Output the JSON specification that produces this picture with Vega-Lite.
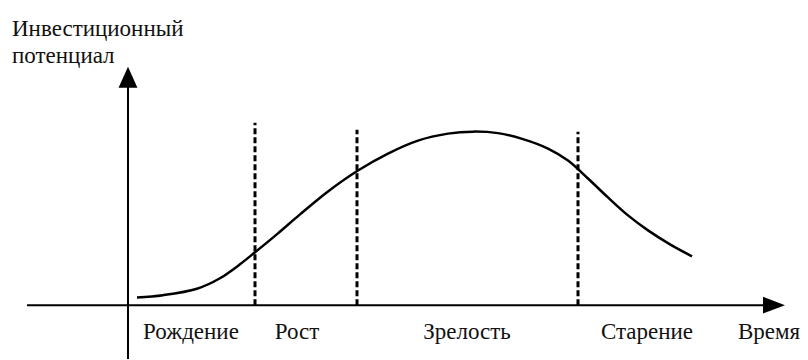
{
  "$schema": "https://vega.github.io/schema/vega-lite/v6.json",
  "width": 808,
  "height": 360,
  "autosize": {"type": "fit", "contains": "padding"},
  "padding": 0,
  "background": "#ffffff",
  "config": {"view": {"stroke": null}},
  "datasets": {
    "axes": [
      {"name": "time", "x": -101, "y": 0, "x2": 648, "y2": 0},
      {"name": "potential", "x": 0, "y": -54, "x2": 0, "y2": 225}
    ],
    "phases": [
      {"x": 127, "y": 0, "y2": 183},
      {"x": 229, "y": 0, "y2": 176},
      {"x": 450, "y": 0, "y2": 174}
    ],
    "curve": [
      {"t": 9, "v": 7.7},
      {"t": 35, "v": 10},
      {"t": 69, "v": 16.5},
      {"t": 92, "v": 27},
      {"t": 112, "v": 41},
      {"t": 127, "v": 53},
      {"t": 150, "v": 72},
      {"t": 172, "v": 91},
      {"t": 200, "v": 114},
      {"t": 230, "v": 135},
      {"t": 260, "v": 152},
      {"t": 290, "v": 165},
      {"t": 320, "v": 172},
      {"t": 345, "v": 174},
      {"t": 370, "v": 172.5},
      {"t": 395, "v": 166.5},
      {"t": 420, "v": 157},
      {"t": 440, "v": 145},
      {"t": 460, "v": 127},
      {"t": 480, "v": 108},
      {"t": 500, "v": 90},
      {"t": 520, "v": 75},
      {"t": 542, "v": 61},
      {"t": 564, "v": 49}
    ],
    "labels": [
      {"label": "Рождение", "x": 63, "y": -34},
      {"label": "Рост", "x": 169, "y": -34},
      {"label": "Зрелость", "x": 339, "y": -34},
      {"label": "Старение", "x": 519, "y": -34},
      {"label": "Время", "x": 641, "y": -34}
    ],
    "titles": [
      {"label": "Инвестиционный", "x": -116, "y": 270},
      {"label": "потенциал", "x": -116, "y": 243}
    ]
  },
  "layer": [
    {
      "data": {"name": "axes"},
      "mark": {"type": "rule", "color": "#000000", "strokeWidth": 2},
      "encoding": {
        "x": {"field": "x", "type": "quantitative", "scale": {"domain": [-128, 680], "nice": false, "zero": false}, "axis": null},
        "y": {"field": "y", "type": "quantitative", "scale": {"domain": [-54, 306], "nice": false, "zero": false}, "axis": null},
        "x2": {"field": "x2"},
        "y2": {"field": "y2"}
      }
    },
    {
      "data": {"name": "phases"},
      "mark": {"type": "rule", "color": "#000000", "strokeWidth": 3, "strokeDash": [6, 3]},
      "encoding": {
        "x": {"field": "x", "type": "quantitative"},
        "y": {"field": "y", "type": "quantitative"},
        "y2": {"field": "y2"}
      }
    },
    {
      "data": {"name": "curve"},
      "mark": {"type": "line", "color": "#000000", "strokeWidth": 2.5, "interpolate": "catmull-rom"},
      "encoding": {
        "x": {"field": "t", "type": "quantitative"},
        "y": {"field": "v", "type": "quantitative"}
      }
    },
    {
      "data": {"values": [{"x": 0, "y": 228.5}]},
      "mark": {"type": "point", "filled": true, "color": "#000000", "opacity": 1, "size": 441, "shape": "M0,-1L0.9,1L-0.9,1Z"},
      "encoding": {
        "x": {"field": "x", "type": "quantitative"},
        "y": {"field": "y", "type": "quantitative"}
      }
    },
    {
      "data": {"values": [{"x": 646, "y": 0}]},
      "mark": {"type": "point", "filled": true, "color": "#000000", "opacity": 1, "size": 484, "shape": "M1,0L-1,0.77L-1,-0.77Z"},
      "encoding": {
        "x": {"field": "x", "type": "quantitative"},
        "y": {"field": "y", "type": "quantitative"}
      }
    },
    {
      "data": {"name": "labels"},
      "mark": {"type": "text", "font": "Liberation Serif", "fontSize": 23, "color": "#111111", "align": "center", "baseline": "alphabetic"},
      "encoding": {
        "x": {"field": "x", "type": "quantitative"},
        "y": {"field": "y", "type": "quantitative"},
        "text": {"field": "label"}
      }
    },
    {
      "data": {"name": "titles"},
      "mark": {"type": "text", "font": "Liberation Serif", "fontSize": 23, "color": "#111111", "align": "left", "baseline": "alphabetic"},
      "encoding": {
        "x": {"field": "x", "type": "quantitative"},
        "y": {"field": "y", "type": "quantitative"},
        "text": {"field": "label"}
      }
    }
  ]
}
